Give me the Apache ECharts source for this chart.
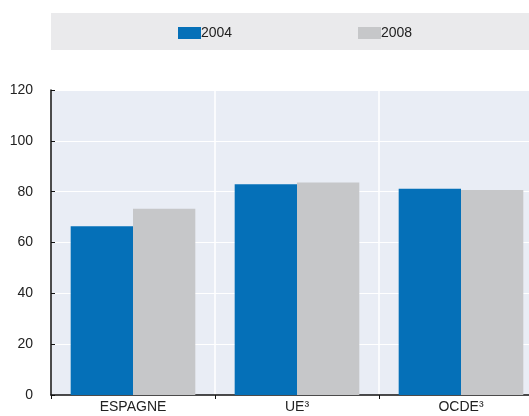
<!DOCTYPE html>
<html><head><meta charset="utf-8">
<script src="https://cdn.jsdelivr.net/npm/echarts@6/dist/echarts.min.js"></script>
<style>html,body{margin:0;padding:0;background:#fff;overflow:hidden}#c{width:543px;height:416px}</style>
</head><body><div id="c"></div>
<script>
const categories = ['ESPAGNE', 'UE³', 'OCDE³'];
const values2004 = [66.4, 82.9, 81.1];
const values2008 = [73.3, 83.6, 80.7];
const yTicks = [0, 20, 40, 60, 80, 100, 120];

const chart = echarts.init(document.getElementById('c'));
const font = '"Liberation Sans", Arial, sans-serif';
chart.setOption({
  animation: false,
  graphic: [{ type: 'rect', shape: { x: 51, y: 13, width: 492, height: 37 }, style: { fill: '#eaeaec' }, z: -1 }],
  legend: [
    { data: ['2004'], left: 178, top: 26, padding: 0, itemWidth: 23, itemHeight: 12, itemGap: 0, icon: 'rect',
      textStyle: { fontFamily: font, fontSize: 14, color: '#222', padding: [0, 0, 0, -5] } },
    { data: ['2008'], left: 358, top: 26, padding: 0, itemWidth: 23, itemHeight: 12, itemGap: 0, icon: 'rect',
      textStyle: { fontFamily: font, fontSize: 14, color: '#222', padding: [0, 0, 0, -5] } }
  ],
  grid: { left: 51, right: 0, top: 90, bottom: 21, show: true, backgroundColor: '#e9edf5', borderWidth: 0 },
  xAxis: {
    type: 'category', data: categories,
    axisLine: { lineStyle: { color: '#111', width: 1.5 } },
    axisTick: { show: true, length: 4, lineStyle: { color: '#111' } },
    axisLabel: { fontFamily: font, fontSize: 14, color: '#222', margin: 5 },
    splitLine: { show: true, lineStyle: { color: '#ffffff', width: 1.5 } }
  },
  yAxis: {
    type: 'value', min: yTicks[0], max: yTicks[yTicks.length - 1], interval: 20,
    axisLine: { show: true, lineStyle: { color: '#111', width: 1.5 } },
    axisTick: { show: true, inside: true, length: 4, lineStyle: { color: '#111' } },
    axisLabel: { fontFamily: font, fontSize: 14, color: '#222', margin: 18 },
    splitLine: { show: true, lineStyle: { color: '#ffffff', width: 1 } }
  },
  series: [
    { name: '2004', type: 'bar', data: values2004, itemStyle: { color: '#0570b8' }, barGap: '0%', barCategoryGap: '24%' },
    { name: '2008', type: 'bar', data: values2008, itemStyle: { color: '#c6c7c9' }, barGap: '0%', barCategoryGap: '24%' }
  ]
});
</script></body></html>
